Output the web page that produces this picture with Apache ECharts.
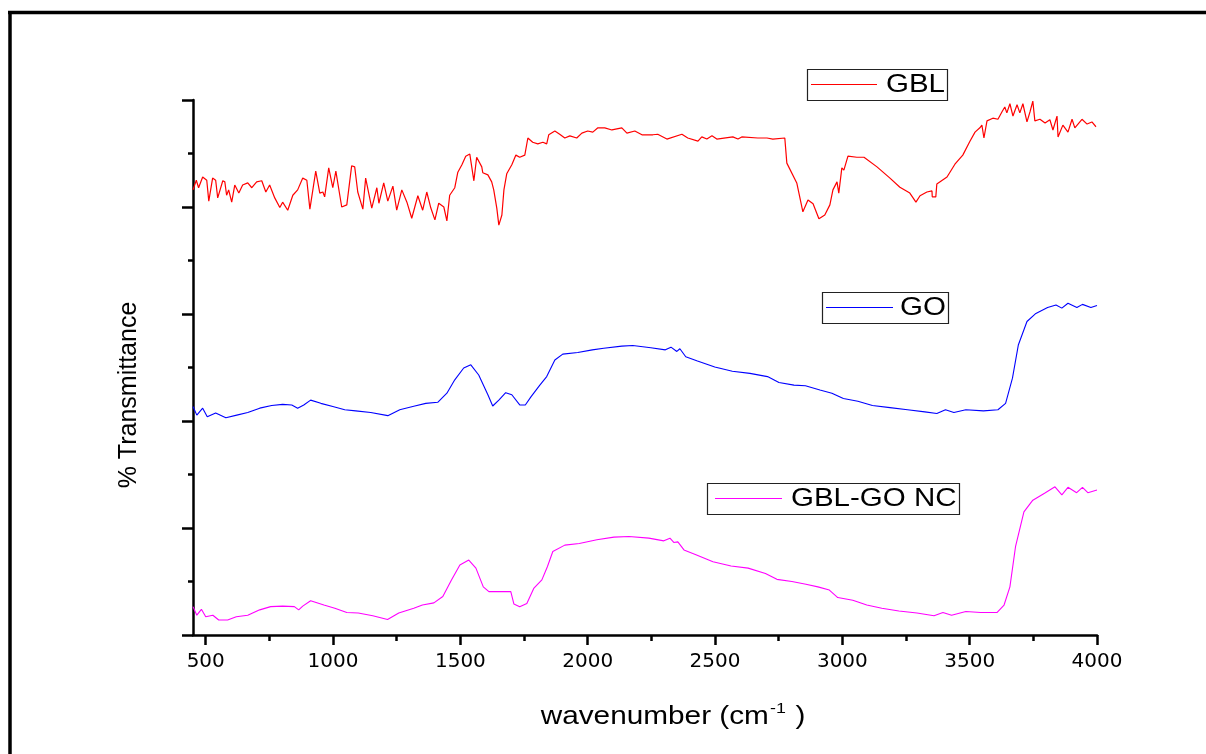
<!DOCTYPE html>
<html>
<head>
<meta charset="utf-8">
<script src="https://cdn.jsdelivr.net/npm/echarts@6/dist/echarts.min.js"></script>
<style>
html,body{margin:0;padding:0;background:#fff;}
#chart{width:1206px;height:754px;}
</style>
</head>
<body>
<div id="chart"></div>
<script>
// ---- data ----
var xTicks = [500, 1000, 1500, 2000, 2500, 3000, 3500, 4000];
var xMinorTicks = [750, 1250, 1750, 2250, 2750, 3250, 3750];
var seriesNames = ['GBL', 'GO', 'GBL-GO NC'];

var wnGBL = [450,463,472,488,504,512,527,539,547,567,575,582,590,602,614,630,645,665,681,700,720,736,751,771,791,802,822,842,861,881,897,909,932,948,960,967,983,999,1011,1034,1054,1073,1085,1097,1117,1128,1152,1172,1180,1199,1215,1235,1250,1270,1290,1309,1333,1352,1368,1384,1400,1415,1435,1447,1458,1478,1490,1506,1521,1537,1553,1564,1584,1588,1608,1623,1631,1643,1651,1663,1671,1682,1702,1718,1733,1753,1765,1784,1804,1824,1839,1847,1871,1890,1910,1930,1957,1977,2000,2020,2040,2067,2095,2134,2154,2185,2213,2236,2256,2275,2311,2370,2393,2433,2448,2468,2488,2507,2570,2590,2605,2668,2704,2727,2774,2782,2821,2845,2865,2885,2908,2931,2951,2963,2979,2986,2998,3006,3022,3057,3085,3136,3187,3226,3265,3289,3305,3332,3352,3353,3367,3371,3411,3442,3473,3501,3521,3540,3548,3556,3568,3591,3611,3627,3638,3646,3658,3670,3686,3697,3709,3725,3737,3748,3756,3776,3796,3815,3827,3843,3847,3866,3886,3902,3913,3941,3961,3980,3996];
var tGBL = [83.2,85.0,83.6,85.6,85.0,81.1,85.4,85.0,81.7,84.9,84.7,82.2,83.2,80.9,84.1,82.6,84.1,84.5,83.6,84.7,84.9,82.8,84.1,81.7,79.9,80.9,79.4,82.2,83.2,85.4,85.0,79.6,86.7,82.6,82.8,81.9,87.3,83.6,86.7,80.0,80.4,87.7,87.5,82.8,79.6,85.4,79.8,83.6,80.7,84.5,81.1,83.9,79.4,83.2,80.9,77.9,82.1,79.4,82.8,79.8,77.6,80.7,80.0,77.4,82.2,83.6,86.5,87.9,89.5,89.9,84.9,89.3,87.5,86.4,86.0,84.7,83.2,79.8,76.6,78.5,83.2,86.2,87.9,89.7,89.3,89.7,92.9,92.1,91.8,92.1,91.8,93.5,94.2,93.6,92.9,93.3,92.9,93.8,94.2,94.0,94.8,94.8,94.4,94.8,93.8,94.2,93.5,93.5,93.5,93.6,92.7,93.6,92.9,92.3,93.1,92.7,93.3,92.7,93.1,92.7,93.1,92.9,92.9,92.7,92.9,88.2,84.5,79.1,81.3,80.6,77.8,78.5,80.4,83.2,84.7,82.6,87.3,86.9,89.5,89.3,89.3,87.5,85.4,83.7,82.6,80.9,82.1,82.8,83.0,81.9,81.9,84.3,85.6,88.0,89.7,92.3,94.0,94.8,95.3,92.9,96.1,96.6,96.4,97.8,98.7,97.6,99.3,97.0,99.1,97.6,99.3,95.9,97.8,99.8,96.1,96.4,95.7,96.3,94.4,97.0,93.1,95.3,94.0,96.4,94.8,96.4,95.5,95.9,95.0];

var wnGO = [450,465,488,506,539,579,622,665,712,759,802,838,861,885,912,952,999,1046,1089,1148,1215,1262,1321,1364,1411,1447,1478,1513,1541,1572,1608,1627,1651,1678,1702,1733,1755,1777,1812,1839,1871,1902,1961,2018,2063,2134,2177,2248,2305,2327,2350,2362,2385,2431,2499,2568,2637,2706,2751,2810,2855,2912,2959,3004,3061,3118,3187,3256,3324,3371,3405,3438,3485,3554,3611,3641,3668,3691,3725,3760,3806,3839,3862,3886,3921,3943,3976,4000];
var tGO = [42.7,41.1,42.4,40.8,41.5,40.6,41.1,41.6,42.4,42.9,43.1,43.0,42.4,43.0,43.9,43.3,42.7,42.1,41.9,41.6,41.0,42.1,42.8,43.3,43.5,45.2,47.7,49.9,50.5,48.6,44.9,42.8,43.9,45.3,44.9,43.0,43.0,44.5,46.7,48.3,51.4,52.5,52.8,53.3,53.6,54.0,54.1,53.7,53.3,53.8,53.0,53.5,52.0,51.2,50.1,49.3,48.9,48.3,47.2,46.7,46.6,45.8,45.2,44.2,43.7,42.9,42.5,42.1,41.7,41.4,42.1,41.6,42.1,41.9,42.1,43.3,48.0,54.2,58.6,60.1,61.2,61.7,61.1,62.0,61.2,61.8,61.2,61.6];

var wnNC = [450,465,483,500,528,551,586,620,665,712,755,802,848,865,881,912,964,1007,1054,1099,1156,1214,1258,1317,1351,1396,1431,1465,1498,1533,1561,1590,1612,1647,1698,1710,1733,1761,1788,1820,1842,1863,1910,1967,2036,2103,2162,2240,2299,2323,2338,2354,2378,2425,2492,2563,2630,2698,2743,2802,2857,2904,2949,2982,3041,3096,3155,3222,3293,3360,3395,3429,3485,3543,3607,3635,3658,3680,3713,3748,3794,3835,3862,3886,3920,3943,3964,4000];
var tNC = [5.3,3.7,4.8,3.4,3.7,2.8,2.8,3.4,3.7,4.7,5.3,5.4,5.3,4.7,5.4,6.4,5.6,5.0,4.2,4.1,3.6,2.9,4.1,5.0,5.6,6.0,7.2,10.3,13.1,14.0,12.5,9.0,8.1,8.1,8.1,5.8,5.3,5.9,8.7,10.3,12.8,15.6,16.8,17.1,17.8,18.3,18.4,18.1,17.6,18.1,17.3,17.4,15.9,15.0,13.7,12.9,12.5,11.5,10.4,10.0,9.5,9.0,8.4,7.0,6.5,5.6,5.0,4.5,4.1,3.6,4.2,3.7,4.4,4.2,4.2,5.6,9.0,16.5,23.0,25.2,26.5,27.7,26.2,27.6,26.6,27.6,26.6,27.1];

function pairs(xs, ys) { return xs.map(function (x, i) { return [x, ys[i]]; }); }

var chart = echarts.init(document.getElementById('chart'), null, { renderer: 'canvas' });

var FONT = 'Liberation Sans, Arial, sans-serif';
var colors = ['#ff0000', '#0000ff', '#ff00ff'];

function legendBox(x, y, w, h, lineX1, lineX2, textX, color, label) {
  var cy = y + h / 2;
  return {
    type: 'group',
    children: [
      { type: 'rect', shape: { x: x + 0.5, y: y + 0.5, width: w, height: h },
        style: { fill: '#fff', stroke: '#222', lineWidth: 1.2 }, z: 10 },
      { type: 'line', shape: { x1: lineX1, y1: cy, x2: lineX2, y2: cy },
        style: { stroke: color, lineWidth: 1.2 }, z: 11 },
      { type: 'text', x: textX, y: cy + 1, scaleX: 1.18, z: 11,
        style: { text: label, fill: '#000', font: '25px ' + FONT, align: 'left', verticalAlign: 'middle' } }
    ]
  };
}

var option = {
  animation: false,
  backgroundColor: '#fff',
  grid: { left: 193, right: 109, top: 100, bottom: 119, containLabel: false },
  xAxis: [
    {
      type: 'value', min: 450, max: 4000, position: 'bottom',
      axisLine: { show: true, onZero: false, lineStyle: { color: '#000', width: 2.5 } },
      axisTick: { show: true, inside: false, length: 10, customValues: xTicks, lineStyle: { color: '#000', width: 2.5 } },
      axisLabel: { show: true, customValues: xTicks, margin: 17, color: '#000', fontSize: 20, fontFamily: 'DejaVu Sans',
        formatter: function (v) { return String(v); } },
      splitLine: { show: false }
    },
    {
      type: 'value', min: 450, max: 4000, position: 'bottom', gridIndex: 0,
      axisLine: { show: false, onZero: false },
      axisTick: { show: true, inside: false, length: 6, customValues: xMinorTicks, lineStyle: { color: '#000', width: 2.5 } },
      axisLabel: { show: false },
      splitLine: { show: false }
    }
  ],
  yAxis: {
    type: 'value', min: 0, max: 100, interval: 20,
    axisLine: { show: true, onZero: false, lineStyle: { color: '#000', width: 2.5 } },
    axisTick: { show: true, inside: false, length: 11, lineStyle: { color: '#000', width: 2.5 } },
    minorTick: { show: true, splitNumber: 2, length: 5, lineStyle: { color: '#000', width: 2.5 } },
    axisLabel: { show: false },
    splitLine: { show: false },
    minorSplitLine: { show: false }
  },
  series: [
    { name: seriesNames[0], type: 'line', xAxisIndex: 0, data: pairs(wnGBL, tGBL), showSymbol: false, symbol: 'none',
      lineStyle: { color: colors[0], width: 1.2 }, itemStyle: { color: colors[0] } },
    { name: seriesNames[1], type: 'line', xAxisIndex: 0, data: pairs(wnGO, tGO), showSymbol: false, symbol: 'none',
      lineStyle: { color: colors[1], width: 1.1 }, itemStyle: { color: colors[1] } },
    { name: seriesNames[2], type: 'line', xAxisIndex: 0, data: pairs(wnNC, tNC), showSymbol: false, symbol: 'none',
      lineStyle: { color: colors[2], width: 1.1 }, itemStyle: { color: colors[2] } }
  ],
  graphic: [
    // outer frame
    { type: 'line', shape: { x1: 8, y1: 12.5, x2: 1206, y2: 12.5 }, style: { stroke: '#000', lineWidth: 3.5 } },
    { type: 'line', shape: { x1: 10, y1: 11, x2: 10, y2: 754 }, style: { stroke: '#000', lineWidth: 3.5 } },
    // legends
    legendBox(807, 69, 140, 31, 811, 877, 886, colors[0], seriesNames[0]),
    legendBox(822, 292, 126, 31, 826, 893, 900, colors[1], seriesNames[1]),
    legendBox(707, 483, 252, 31, 715, 782, 791, colors[2], seriesNames[2]),
    // axis titles
    { type: 'text', x: 673, y: 717, scaleX: 1.19,
      style: { text: '{a|wavenumber (cm}{s|-1}{a| )}', align: 'center', verticalAlign: 'middle',
        rich: { a: { font: '25px ' + FONT, fill: '#000' },
                s: { font: '15px ' + FONT, fill: '#000', verticalAlign: 'top', padding: [0, 1, 16, 1] } } } },
    { type: 'text', x: 129, y: 395, rotation: Math.PI / 2,
      style: { text: '% Transmittance', font: '25px ' + FONT, fill: '#000', align: 'center', verticalAlign: 'middle' } }
  ]
};

chart.setOption(option);
</script>
</body>
</html>
